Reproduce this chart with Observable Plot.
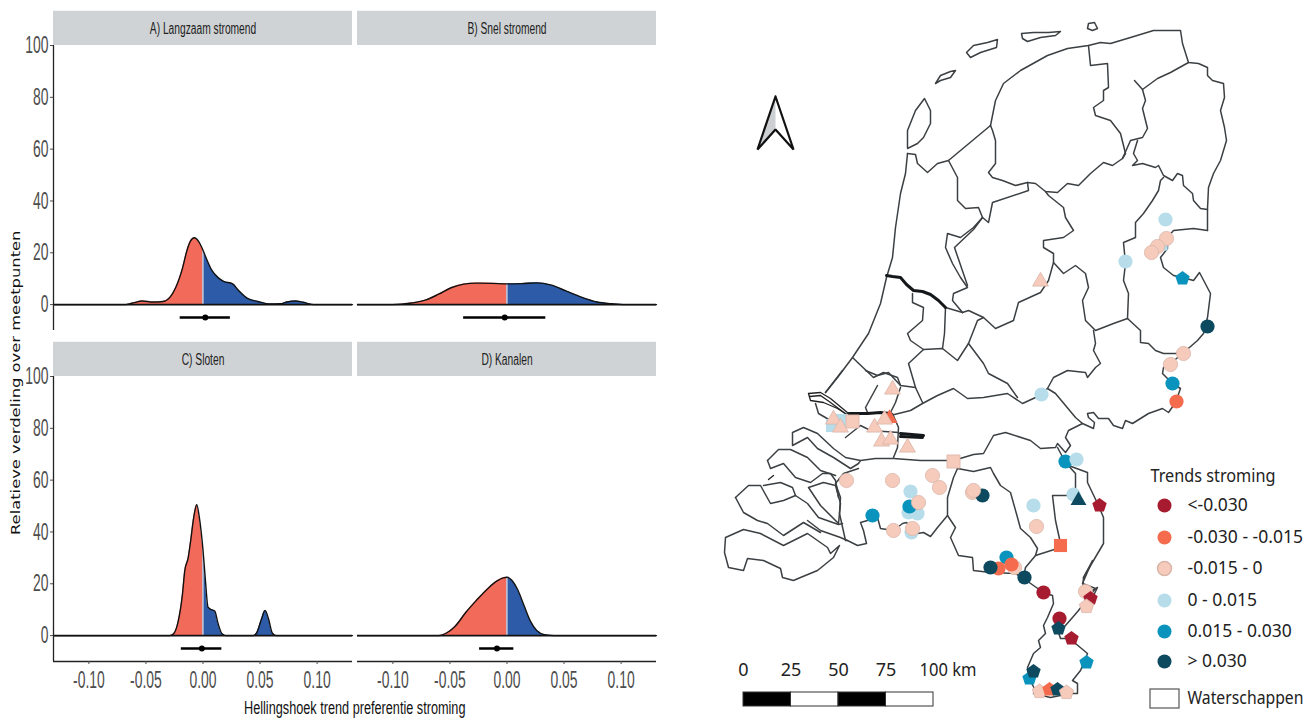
<!DOCTYPE html>
<html><head><meta charset="utf-8">
<script src="https://cdn.jsdelivr.net/npm/d3@7"></script>
<script src="https://cdn.jsdelivr.net/npm/@observablehq/plot@0.6"></script>
<style>
html,body{margin:0;padding:0;background:#fff;width:1315px;height:722px;overflow:hidden}
#left,#map{position:absolute;top:0}
#left{left:0}#map{left:715px}
#xlab{position:absolute;left:244px;top:698px;font:18px "Liberation Sans",sans-serif;color:#111;white-space:nowrap;transform-origin:0 0;transform:scaleX(.705)}
#ylab{position:absolute;left:8px;top:535px;transform-origin:0 0;transform:rotate(-90deg) scaleX(1.256);font:13px "DejaVu Sans",sans-serif;color:#111;white-space:nowrap}
</style></head><body>
<div id="left"></div><div id="map"></div>
<div id="xlab">Hellingshoek trend preferentie stroming</div>
<div id="ylab">Relatieve verdeling over meetpunten</div>
<script>
// ---- density panels
const panelNames=["A) Langzaam stromend","B) Snel stromend","C) Sloten","D) Kanalen"];
const colOf=[0,1,0,1], rowOf=[0,0,1,1];
const xMin=-0.131, xMax=0.131;
const xTicks=[-0.10,-0.05,0,0.05,0.10], yTicks=[0,20,40,60,80,100];
const densA=[[-0.131,0],[-0.068,0],[-0.0625,.5],[-0.053,1.4],[-0.044,1],[-0.035,1.2],[-0.029,2.8],[-0.024,6.5],[-0.018,14],[-0.014,21],[-0.011,24.5],[-0.0075,25.8],[-0.004,24.5],[0,21],[.0037,17],[.0074,13.5],[.013,10.5],[.018,9],[.026,8],[.031,5.5],[.0386,2.5],[.048,1.2],[.059,.2],[.068,.3],[.0735,1],[.081,1.4],[.088,.9],[.097,0],[.131,0]];
const densB=[[-0.131,0],[-0.1007,0],[-0.084,.6],[-0.071,1.8],[-0.06,4],[-0.049,6.5],[-0.038,7.9],[-0.027,8.3],[-0.0125,8.2],[0,8],[.013,8.1],[.026,8.4],[.039,7.5],[.052,5.2],[.065,2.9],[.079,1],[.092,.3],[.103,0],[.131,0]];
const densC=[[-0.131,0],[-0.029,0],[-0.026,.6],[-0.022,5],[-0.018,16],[-0.016,25],[-0.013,30],[-0.011,36],[-0.008,46],[-0.0055,50.5],[-0.003,45],[0,33],[.002,22],[.0044,11],[.0074,10],[.0103,9.5],[.013,5],[.0165,.8],[.02,0],[.044,0],[.047,1],[.051,6],[.0544,9.7],[.0574,6.5],[.0607,1],[.064,0],[.131,0]];
const densD=[[-0.131,0],[-0.06,0],[-0.053,1],[-0.0456,3.5],[-0.036,9],[-0.027,13.5],[-0.016,18.5],[-0.009,21],[-0.0033,22.3],[0,22.5],[.004,21.5],[.0096,17.5],[.015,11.5],[.0206,5.5],[.026,2],[.0335,.3],[.041,0],[.131,0]];
const intervalLow=[-0.020,-0.038,-0.019,-0.024];
const intervalMid=[0.002,-0.002,-0.001,-0.0088];
const intervalHigh=[0.024,0.034,0.0165,0.006];
const intervalY=-5;
const negColor="#f26a5a", posColor="#2d5ba8", stripColor="#d0d3d5";
const stripBase=100, stripTop=113.2, stripMid=106.4, yBottom=-10;

const panels=panelNames.map((name,i)=>({name,col:colOf[i],row:rowOf[i],lo:intervalLow[i],mid:intervalMid[i],hi:intervalHigh[i]}));
const dens=[densA,densB,densC,densD].flatMap((d,i)=>d.map(([x,y])=>({x,y,col:colOf[i],row:rowOf[i]})));
const neg=dens.filter(d=>d.x<=0), pos=dens.filter(d=>d.x>=0);
const facet={fx:"col",fy:"row"};
const narrow='"Liberation Sans",sans-serif';
const minusFix=d=>d3.format(".2f")(d).replace("−","-");

const leftPlot=Plot.plot({
  width:660,height:722,marginLeft:52,marginRight:4,marginTop:44,marginBottom:61,
  style:{background:"transparent",overflow:"visible"},
  x:{domain:[xMin,xMax]},y:{domain:[yBottom,100]},
  fx:{domain:[0,1],axis:null,paddingInner:0.0166,paddingOuter:0},
  fy:{domain:[0,1],axis:null,paddingInner:0.139,paddingOuter:0},
  marks:[
    Plot.rect(panels,{...facet,x1:()=>xMin,x2:()=>xMax,y1:()=>stripBase,y2:()=>stripTop,fill:stripColor}),
    Plot.text(panels,{...facet,x:()=>0,y:()=>stripMid,text:"name",fontFamily:narrow,fontSize:16,fill:"#222"}),
    Plot.areaY(neg,{...facet,x:"x",y:"y",curve:"monotone-x",fill:negColor}),
    Plot.areaY(pos,{...facet,x:"x",y:"y",curve:"monotone-x",fill:posColor}),
    Plot.ruleX(dens.filter(d=>d.x===0),{...facet,x:"x",y1:()=>0,y2:"y",stroke:"#f6f0ee",strokeWidth:1}),
    Plot.line(dens,{...facet,x:"x",y:"y",z:d=>d.col+"-"+d.row,curve:"monotone-x",stroke:"#111",strokeWidth:1.4}),
    Plot.ruleY(panels,{...facet,y:()=>0,x1:()=>xMin,x2:()=>xMax,stroke:"#111",strokeWidth:1.6}),
    Plot.ruleY(panels,{...facet,y:()=>intervalY,x1:"lo",x2:"hi",stroke:"#000",strokeWidth:2.4}),
    Plot.dot(panels,{...facet,x:"mid",y:()=>intervalY,r:3,fill:"#000"}),
    Plot.ruleX(panels.filter(p=>p.col===0),{...facet,x:()=>xMin,y1:()=>yBottom,y2:()=>100,stroke:"#222",strokeWidth:1.3}),
    Plot.ruleY(panels.filter(p=>p.row===1),{...facet,y:()=>yBottom,x1:()=>xMin,x2:()=>xMax,stroke:"#222",strokeWidth:1.6}),
    Plot.axisY({ticks:yTicks,anchor:"left",label:null,tickSize:3,tickPadding:2,fontSize:24,fontFamily:narrow,color:"#4d4d4d"}),
    Plot.axisX({ticks:xTicks,anchor:"bottom",label:null,tickSize:3,tickPadding:6,fontSize:24,fontFamily:narrow,color:"#4d4d4d",tickFormat:minusFix})
  ]});
document.getElementById("left").append(leftPlot);
// tall condensed lettering of the reference
leftPlot.querySelectorAll("text").forEach(t=>{
  const f=panelNames.includes(t.textContent)?0.64:0.58;
  t.setAttribute("textLength",(t.getComputedTextLength()*f).toFixed(1));
  t.setAttribute("lengthAdjust","spacingAndGlyphs");
});

// ---- map: polylines in map units
const islands=[
 [[907,147],[907,130],[915,110],[924,98],[930,110],[930,123],[923,137],[917,143],[907,148]],
 [[935,83],[940,75],[950,71],[955,70],[950,77],[940,80],[935,83]],
 [[966,52],[973,45],[987,42],[997,39],[996,47],[980,52],[970,57],[966,52]],
 [[1021,33],[1033,32],[1048,32],[1060,31],[1055,35],[1040,37],[1027,41],[1022,38],[1021,33]],
 [[1087,28],[1088,23],[1094,22],[1097,28],[1092,30],[1087,28]]];
const northBorders=[
 [[907,153],[905,173],[900,193],[895,227],[892,257],[886,277],[880,303],[868,333],[852,357],[837,377],[825,392]],
 [[907,153],[915,154],[917,163],[927,172],[937,163],[948,160],[990,125]],
 [[948,160],[957,177],[957,200],[965,208],[978,207],[982,217],[973,227],[960,237],[947,233],[945,247],[952,263],[960,277],[967,287],[953,293],[952,300],[962,312]],
 [[990,125],[995,100],[1003,83],[1020,70],[1047,55],[1067,48],[1088,45],[1100,42],[1110,43],[1130,37],[1153,30],[1180,30],[1182,43],[1188,62],[1198,63],[1207,67],[1207,75],[1212,80],[1223,83],[1224,97],[1220,110],[1224,127],[1226,140],[1220,160],[1213,173],[1208,187],[1207,208],[1207,230]],
 [[1088,45],[1090,65],[1107,63],[1108,87],[1103,90],[1103,100],[1093,107],[1095,115],[1110,120],[1120,133],[1125,153],[1122,158],[1112,165],[1103,162],[1090,173],[1078,185],[1067,183],[1057,192],[1045,191],[1035,183],[1027,182],[1015,185],[1002,180],[992,177],[988,172],[995,163],[995,140],[992,130],[990,125]],
 [[1188,62],[1170,72],[1157,78],[1142,89],[1134,80]],
 [[1142,89],[1145,100],[1142,108],[1147,128],[1142,137],[1130,140],[1122,158]],
 [[1137,140],[1133,153],[1137,160],[1132,165],[1142,163],[1155,167],[1158,165],[1163,175],[1172,180],[1177,173],[1182,175],[1183,185],[1192,193],[1193,200],[1200,208],[1207,209]],
 [[1163,177],[1160,180],[1158,190],[1152,200],[1143,213],[1135,222],[1135,237],[1123,242],[1125,263],[1123,280],[1128,293],[1127,318]],
 [[1207,230],[1193,228],[1173,230],[1167,237],[1167,248],[1160,257],[1163,267],[1173,275],[1182,277],[1193,280],[1199,272],[1210,293],[1207,317],[1203,333],[1197,340],[1182,353],[1163,353],[1155,350],[1148,343],[1140,342],[1140,330],[1127,318]],
 [[1127,318],[1113,323],[1095,330],[1085,320],[1082,300],[1088,287],[1085,273],[1075,265],[1063,273],[1053,262],[1053,253],[1043,247],[1043,240],[1063,237],[1073,230],[1065,217],[1063,207],[1048,195],[1045,191]],
 [[1027,182],[1028,190],[992,202],[988,222],[982,217]],
 [[982,217],[973,229],[954,247],[967,285]],
 [[1053,262],[1048,280],[1040,292],[1018,302],[1013,320],[995,328],[983,317],[968,310],[962,312]],
 [[912,293],[912,302],[923,307],[922,320],[907,333],[910,340],[923,349],[942,348],[957,360],[968,343],[977,320],[983,317]],
 [[945,307],[944,333],[942,348]],
 [[945,307],[962,312]],
 [[968,343],[983,363],[988,373],[1007,383],[1017,397]],
 [[923,349],[908,363],[913,380],[915,387]],
 [[852,357],[873,377],[883,372],[897,377],[900,385],[915,387],[922,402]]];
const canalBorders=[
 [[886,275],[892,276],[900,277],[906,284],[913,290],[922,291],[930,294],[938,300],[945,307]],
 [[848,413],[867,413],[880,412],[890,413]],
 [[900,433],[923,435]],[[900,436],[922,437]]];
const harbourBorders=[
 [[808,393],[820,392],[830,398],[848,413]],
 [[809,396],[820,395],[830,402],[846,414]],
 [[808,393],[810,400],[823,402],[837,408],[848,415]],
 [[768,479],[773,475]]];
const southBorders=[
 [[842,370],[825,392]],
 [[815,403],[818,413],[830,420]],
 [[892,413],[898,427],[897,447],[893,457]],
 [[845,437],[860,425],[870,430],[898,432]],
 [[865,370],[877,375],[888,372],[900,385]],
 [[877,385],[865,407],[867,412]],
 [[900,387],[895,402],[890,412]],
 [[890,415],[910,410],[922,403],[937,395],[953,388],[967,398],[983,397],[1007,393],[1022,403],[1035,397],[1047,388]],
 [[1093,330],[1095,343],[1093,350],[1100,363],[1095,367],[1087,377],[1085,372],[1067,370],[1053,377],[1047,388],[1055,393],[1075,417],[1082,423],[1068,430],[1065,437],[1070,445],[1065,452],[1057,443],[1055,447],[1040,448],[1030,440],[1005,432],[993,435],[983,453],[973,454],[953,460],[920,460],[893,458],[875,458],[860,460],[845,457],[833,448],[817,433],[803,427],[792,432],[792,445],[807,437],[817,448],[833,457],[850,468],[858,463],[860,460]],
 [[1082,423],[1093,428],[1094,422],[1088,417],[1087,413],[1093,412],[1098,418],[1108,418],[1113,425],[1122,428],[1125,420],[1132,423],[1148,413],[1162,408],[1168,412],[1175,402],[1180,388],[1172,383],[1162,373],[1163,367],[1170,363],[1182,353]],
 [[1057,447],[1065,462],[1075,473],[1075,490],[1080,500]],
 [[1068,465],[1087,472],[1087,482],[1098,505],[1103,517],[1103,543],[1083,577],[1082,590]],
 [[1073,495],[1052,495],[1055,520],[1060,543]],
 [[1060,547],[1035,555],[1025,567],[1023,577]],
 [[957,468],[973,471],[990,467],[993,473],[1000,485],[1010,492],[1017,517],[1020,528],[1030,537],[1037,548],[1035,555]],
 [[953,460],[957,468],[953,477],[947,497],[947,515],[937,527],[930,536],[923,532],[917,533],[906,522],[902,523],[893,530],[880,528],[877,517],[867,520],[860,522],[863,530],[866,543],[857,545],[847,540],[845,540],[839,513],[840,497],[835,483],[843,473],[858,468]],
 [[947,515],[955,527],[950,537],[958,555],[972,557],[973,570],[990,572],[1015,573],[1023,578],[1043,592],[1052,595],[1053,603],[1047,617],[1043,625],[1045,633],[1038,640],[1040,647],[1033,653],[1027,667],[1028,677],[1035,690],[1033,693],[1050,697],[1070,693],[1077,693],[1077,683],[1072,680],[1080,670],[1083,663],[1087,653],[1075,643],[1067,638],[1060,638],[1055,623],[1058,618]],
 [[1065,625],[1072,617],[1078,610],[1095,588],[1082,583],[1092,560],[1083,577]],
 [[1092,590],[1097,587],[1093,595]],
 [[725,537],[743,529],[760,533],[783,545],[807,533],[827,547],[830,553],[839,545],[833,557],[817,570],[800,577],[793,580],[782,577],[780,568],[763,560],[747,558],[743,570],[728,567],[724,552],[725,537]],
 [[807,520],[820,530],[840,537],[847,540]],
 [[735,497],[748,485],[760,485],[770,503],[783,500],[795,495],[807,503],[818,517],[838,524],[842,523]],
 [[735,497],[743,512],[757,520],[767,523],[783,535],[803,522],[820,532]],
 [[763,485],[780,482],[792,487],[795,495]],
 [[808,487],[823,482],[835,485],[840,503],[838,523],[820,505],[808,487]],
 [[767,460],[778,449],[790,449],[807,457],[820,470],[835,475]],
 [[767,460],[770,468],[783,463],[795,477],[810,482],[822,473],[830,473],[835,480],[838,497]]];
const borders=[...islands,...northBorders,...southBorders];
const toRows=ls=>ls.flatMap((l,i)=>l.map(([x,y])=>({x,y,id:i})));

// ---- markers: [easting, northing, class]
const classNames=["<-0.030","-0.030 - -0.015","-0.015 - 0","0 - 0.015","0.015 - 0.030","> 0.030"];
const classColors=["#a61b2f","#f46c4d","#f6cbbc","#b6dde9","#0a93bd","#0e4a5f"];
const squares=[[832,425,3],[841,420,3],[852,421,2],[953,461,2],[1060,545,1]];
const smallSquares=[[1164,247,3]];
const circles=[[1165,219,3],[1166,238,2],[1157,246,2],[1151,252,2],[1125,261,3],[1207,326,5],[1183,353,2],[1170,364,2],[1172,383,4],[1176,401,1],[1041,394,3],
 [846,480,2],[892,480,2],[932,475,2],[939,487,2],[972,492,2],[982,495,5],[973,490,2],[908,512,3],[917,513,3],[910,491,3],[909,506,4],[918,502,2],[872,515,4],[893,530,2],[911,532,3],[912,528,2],[1033,505,3],[1036,526,2],[1065,461,4],[1076,459,3],[1073,494,3],
 [1006,557,4],[1014,567,2],[998,568,1],[990,567,5],[1011,564,1],[1024,577,5],[1043,592,0],[1085,591,2],[1059,618,0]];
const triangles=[[1078,500,5],[1040,281,2],[892,389,2],[889,418,1],[833,419,2],[840,427,2],[874,427,2],[884,419,2],[881,441,2],[890,439,2],[907,447,2]];
const pentagons=[[1182,278,4],[1099,505,0],[1090,598,0],[1086,606,2],[1058,628,5],[1071,638,0],[1086,662,4],[1029,678,4],[1033,671,5],[1039,691,2],[1049,689,1],[1057,689,5],[1066,692,2]];
const pentagonSymbol={draw(ctx,size){const R=Math.sqrt(size/Math.PI)*1.08;for(let i=0;i<5;i++){const a=-Math.PI/2+i*2*Math.PI/5,x=R*Math.cos(a),y=R*Math.sin(a);i?ctx.lineTo(x,y):ctx.moveTo(x,y);}ctx.closePath();}};
const markerRow=([x,y,c])=>({x,y,c:classNames[c]});
const markerStroke="#d9b5a8";
const markerStyle={x:"x",y:"y",fill:"c",stroke:d=>d.c===classNames[2]?markerStroke:"none",strokeWidth:.8};

// ---- legend, scale bar, north arrow
const legendY=[505,537,568,600,631,661];
const legendDotX=1164, legendTextX=1187;
const legendRows=classNames.map((c,i)=>({c,y:legendY[i]}));
const legendTitle="Trends stroming", boxLabel="Waterschappen";
const boxX=[1150,1179], boxY=[689,708], boxLabelY=698;
const unitsPerKm=1.9, barOrigin=743, barTop=692, barBottom=706;
const barKm=[0,25,50,75,100];
const barRows=barKm.slice(0,-1).map((k,i)=>({x1:barOrigin+k*unitsPerKm,x2:barOrigin+barKm[i+1]*unitsPerKm,f:i%2?"#fff":"#000"}));
const barLabels=[{km:0,t:"0"},{km:25,t:"25"},{km:50,t:"50"},{km:75,t:"75"}];
const barLabelY=670;
const arrowOutline=[[775,96],[757,149],[775,129],[793,149],[775,96]];
const arrowShade=[[775,96],[757,149],[775,129],[775,96]];
const sans='"Noto Sans","Open Sans",sans-serif';
const fittedWidths={"Trends stroming":125,"Waterschappen":116,"100 km":57};

const mapPlot=Plot.plot({
  width:600,height:722,margin:0,
  style:{background:"transparent"},
  x:{domain:[715,1315],axis:null},y:{domain:[722,0],axis:null},
  color:{domain:classNames,range:classColors},
  marks:[
    Plot.line(toRows(borders),{x:"x",y:"y",z:"id",stroke:"#3c4043",strokeWidth:1.5,strokeLinejoin:"round"}),
    Plot.line(toRows(canalBorders),{x:"x",y:"y",z:"id",stroke:"#15181a",strokeWidth:3}),
    Plot.line(toRows(harbourBorders),{x:"x",y:"y",z:"id",stroke:"#222",strokeWidth:1.3}),
    Plot.dot(squares.map(markerRow),{...markerStyle,symbol:"square",r:7.4}),
    Plot.dot(smallSquares.map(markerRow),{...markerStyle,symbol:"square",r:3.6}),
    Plot.dot(circles.map(markerRow),{...markerStyle,r:7.1}),
    Plot.dot(triangles.map(markerRow),{...markerStyle,symbol:"triangle",r:5.9}),
    Plot.dot(pentagons.map(markerRow),{...markerStyle,symbol:pentagonSymbol,r:7}),
    Plot.line(arrowShade,{x:d=>d[0],y:d=>d[1],fill:"#cdd0d2",stroke:"none"}),
    Plot.line(arrowOutline,{x:d=>d[0],y:d=>d[1],stroke:"#111",strokeWidth:2.2,strokeLinejoin:"miter"}),
    Plot.rect(barRows,{x1:"x1",x2:"x2",y1:()=>barTop,y2:()=>barBottom,fill:"f",stroke:"#333",strokeWidth:1,inset:0}),
    Plot.text(barLabels,{x:d=>barOrigin+d.km*unitsPerKm,y:()=>barLabelY,text:"t",fontFamily:sans,fontSize:18,fill:"#222"}),
    Plot.text(["100 km"],{x:()=>barOrigin+100*unitsPerKm-14,y:()=>barLabelY,text:d=>d,textAnchor:"start",fontFamily:sans,fontSize:18,fill:"#222"}),
    Plot.text([legendTitle],{x:()=>1150,y:()=>476,text:d=>d,textAnchor:"start",fontFamily:sans,fontSize:18,fill:"#222"}),
    Plot.dot(legendRows,{x:()=>legendDotX,y:"y",fill:"c",stroke:d=>d.c===classNames[2]?markerStroke:"none",r:7}),
    Plot.text(legendRows,{x:()=>legendTextX,y:"y",text:"c",textAnchor:"start",fontFamily:sans,fontSize:17.5,fill:"#222"}),
    Plot.rect([boxLabel],{x1:()=>boxX[0],x2:()=>boxX[1],y1:()=>boxY[0],y2:()=>boxY[1],fill:"#fff",stroke:"#555",strokeWidth:1.2}),
    Plot.text([boxLabel],{x:()=>legendTextX,y:()=>boxLabelY,text:d=>d,textAnchor:"start",fontFamily:sans,fontSize:17.5,fill:"#222"})
  ]});
document.getElementById("map").append(mapPlot);
mapPlot.querySelectorAll("text").forEach(t=>{
  const w=fittedWidths[t.textContent];
  if(w){t.setAttribute("textLength",w);t.setAttribute("lengthAdjust","spacingAndGlyphs");}
});
</script></body></html>
